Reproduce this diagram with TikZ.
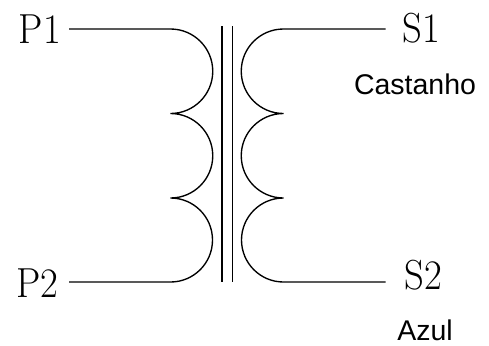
\documentclass[tikz,border=0pt]{standalone}
\usepackage{fontspec}
\setmainfont{Liberation Sans}
\newfontfamily\serifletters{Latin Modern Roman}
\tikzset{
  wire/.style={line width=1.35bp,black},
  bar/.style={line width=1.35bp,black},
  term/.style={inner sep=0pt,outer sep=0pt,anchor=base,font=\serifletters\fontsize{42bp}{42bp}\selectfont},
  note/.style={inner sep=0pt,outer sep=0pt,anchor=base,font=\fontsize{28.5bp}{30bp}\selectfont}
}
\newcommand{\narrow}[1]{\scalebox{0.92}[1]{#1}}
\begin{document}
\begin{tikzpicture}[x=1bp,y=1bp]
\useasboundingbox (0,0) rectangle (489,345);
\node[term] (P1) at (40,302) {\narrow{P1}};
\node[term] (P2) at (37.5,48) {\narrow{P2}};
\node[term] (S1) at (421,303) {\narrow{S1}};
\node[term] (S2) at (423.5,56) {\narrow{S2}};
\node[note] (cast) at (415,251) {Castanho};
\node[note] (azul) at (425,5) {Azul};
\coordinate (pa) at (69,316);
\coordinate (pb) at (170.5,316);
\coordinate (pc) at (170.5,231.5);
\coordinate (pd) at (170.5,147);
\coordinate (pe) at (170.5,63);
\coordinate (pf) at (69,63);
\coordinate (sa) at (385.7,316);
\coordinate (sb) at (283.5,316);
\coordinate (sc) at (283.5,231.5);
\coordinate (sd) at (283.5,147);
\coordinate (se) at (283.5,63);
\coordinate (sf) at (385.7,63);
\coordinate (c1t) at (222,319);
\coordinate (c1b) at (222,63);
\coordinate (c2t) at (232.7,319);
\coordinate (c2b) at (232.7,63);
\draw[wire] (pa) -- (pb) arc[start angle=90,end angle=-90,radius=42.25]
  (pc) arc[start angle=90,end angle=-90,radius=42.25]
  (pd) arc[start angle=90,end angle=-90,radius=42]
  -- (pf);
\draw[wire] (sa) -- (sb) arc[start angle=90,end angle=270,radius=42.25]
  (sc) arc[start angle=90,end angle=270,radius=42.25]
  (sd) arc[start angle=90,end angle=270,radius=42]
  -- (sf);
\draw[bar] (c1t) -- (c1b);
\draw[bar] (c2t) -- (c2b);
\end{tikzpicture}
\end{document}
